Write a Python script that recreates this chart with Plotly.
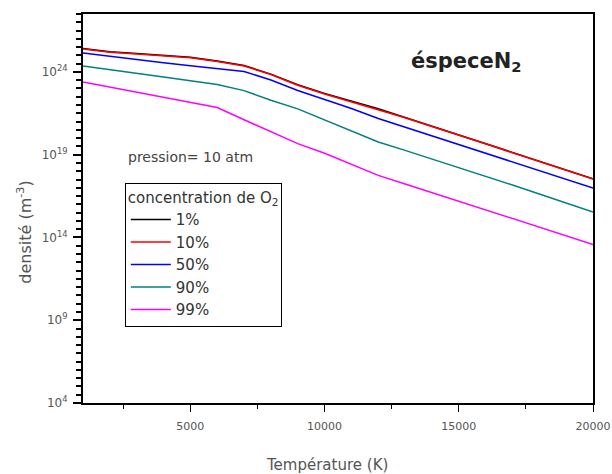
import plotly.graph_objects as go

# Temperature grid (K)
temperature = [1000, 2000, 3000, 4000, 5000, 6000, 7000, 8000, 9000, 10000,
               11000, 12000, 13000, 14000, 15000, 16000, 17000, 18000, 19000, 20000]

# log10 of density (m^-3)
log_n_1 = [25.42, 25.22, 25.11, 25.00, 24.88, 24.66, 24.39, 23.87, 23.23, 22.70,
           22.22, 21.78, 21.25, 20.72, 20.21, 19.68, 19.14, 18.61, 18.08, 17.55]
log_n_10 = [25.39, 25.19, 25.09, 24.97, 24.85, 24.63, 24.36, 23.84, 23.20, 22.67,
            22.19, 21.75, 21.23, 20.70, 20.19, 19.66, 19.12, 18.59, 18.06, 17.53]
log_n_50 = [25.15, 24.94, 24.75, 24.56, 24.37, 24.19, 24.03, 23.51, 22.88, 22.33,
            21.79, 21.19, 20.66, 20.14, 19.63, 19.11, 18.58, 18.05, 17.52, 16.99]
log_n_90 = [24.36, 24.15, 23.92, 23.70, 23.47, 23.24, 22.87, 22.29, 21.77, 21.10,
            20.47, 19.77, 19.26, 18.74, 18.23, 17.72, 17.17, 16.63, 16.08, 15.54]
log_n_99 = [23.40, 23.09, 22.79, 22.46, 22.16, 21.85, 21.11, 20.37, 19.67, 19.09,
            18.44, 17.75, 17.23, 16.71, 16.21, 15.68, 15.16, 14.63, 14.11, 13.58]

series_names = ["1%", "10%", "50%", "90%", "99%"]
series_logs = [log_n_1, log_n_10, log_n_50, log_n_90, log_n_99]
series_colors = ["#000000", "#ff0000", "#0000ff", "#008080", "#ff00ff"]

y_tick_exponents = [4, 9, 14, 19, 24]
x_tick_values = [5000, 10000, 15000, 20000]
x_tick_labels = ["5000", "10000", "15000", "20000"]

fig = go.Figure()
for name, logs, color in zip(series_names, series_logs, series_colors):
    fig.add_trace(go.Scatter(
        x=temperature, y=[10.0 ** v for v in logs], mode="lines", name=name,
        line=dict(color=color, width=1.5)))

font = "DejaVu Sans, Liberation Sans, Arial, sans-serif"
fig.update_layout(
    width=612, height=474,
    margin=dict(l=83, r=19, t=14, b=71),
    paper_bgcolor="white", plot_bgcolor="white",
    font=dict(family=font, size=12, color="#555555"),
    showlegend=True,
    legend=dict(
        x=0.082, y=0.566, xanchor="left", yanchor="top",
        bordercolor="#000000", borderwidth=1, bgcolor="white",
        itemwidth=40,
        font=dict(family=font, size=15, color="#333333"),
        title=dict(text="concentration de O<sub>2</sub>",
                   font=dict(family=font, size=15, color="#333333")),
        tracegroupgap=0,
    ),
    xaxis=dict(
        range=[1000, 20000], showgrid=False, zeroline=False, automargin=False,
        showline=True, linecolor="#000000", linewidth=1.5, mirror=True,
        ticks="outside", ticklen=7, tickwidth=1, tickcolor="#000000",
        tickvals=x_tick_values, ticktext=x_tick_labels,
        ticklabelstandoff=5,
        tickfont=dict(family=font, size=11, color="#555555"),
        minor=dict(tickvals=[2500, 7500, 12500, 17500], ticks="outside",
                   ticklen=4, tickcolor="#000000"),
    ),
    yaxis=dict(
        type="log", range=[4, 27.5], showgrid=False, zeroline=False, automargin=False,
        showline=True, linecolor="#000000", linewidth=2, mirror=True,
        ticks="outside", ticklen=8, tickwidth=1.5, tickcolor="#000000",
        tickvals=[10.0 ** e for e in y_tick_exponents],
        ticktext=["10<sup>%d</sup>" % e for e in y_tick_exponents],
        ticklabelstandoff=3,
        tickfont=dict(family=font, size=12, color="#555555"),
        minor=dict(tickvals=[10.0 ** (k / 2) for k in range(8, 56)],
                   ticks="outside", ticklen=5, tickwidth=1.5, tickcolor="#000000"),
    ),
)

fig.add_annotation(
    text="<b>éspeceN<sub>2</sub></b>", xref="paper", yref="paper",
    x=0.751, y=0.877, xanchor="center", yanchor="middle", showarrow=False,
    font=dict(family=font, size=21, color="#222222"))
fig.add_annotation(
    text="pression= 10 atm", xref="paper", yref="paper",
    x=0.085, y=0.633, xanchor="left", yanchor="middle", showarrow=False,
    font=dict(family=font, size=14, color="#444444"))
fig.add_annotation(
    text="Température (K)", xref="paper", yref="paper",
    x=0.478, y=-0.16, xanchor="center", yanchor="middle", showarrow=False,
    font=dict(family=font, size=15, color="#555555"))
fig.add_annotation(
    text="densité (m<sup>-3</sup>)", xref="paper", yref="paper",
    x=-0.114, y=0.44, xanchor="center", yanchor="middle", textangle=-90,
    showarrow=False,
    font=dict(family=font, size=16, color="#555555"))

fig.write_html("out.html", config={"displayModeBar": False},
               post_script="document.body.style.margin='0';")
